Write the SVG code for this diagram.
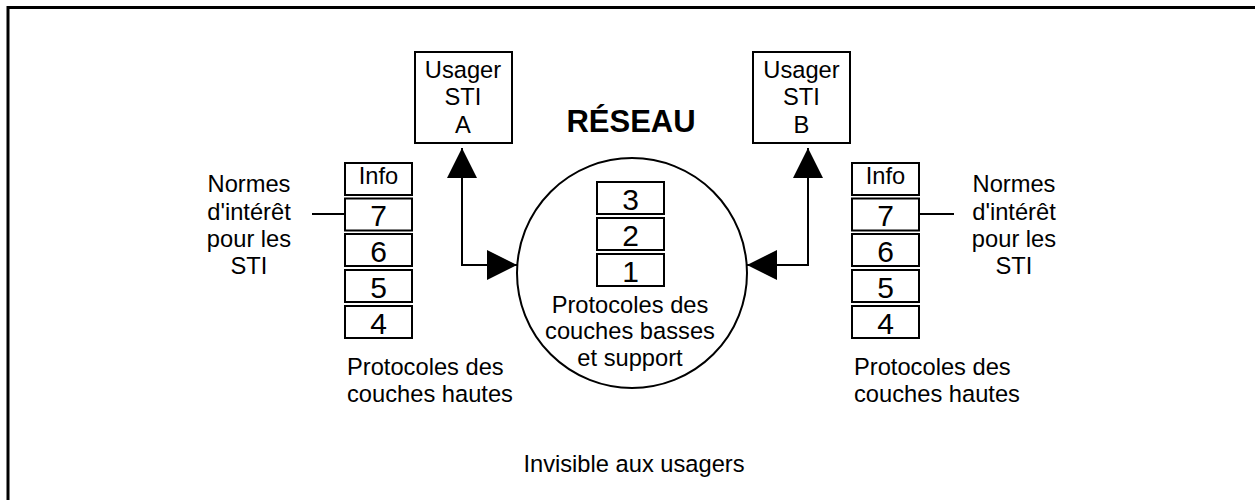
<svg xmlns="http://www.w3.org/2000/svg" width="1255" height="500" viewBox="0 0 1255 500">
  <style>
    text { font-family: "Liberation Sans", Arial, sans-serif; fill: #000; }
    .t { font-size: 23.7px; text-anchor: middle; }
    .l { font-size: 23.7px; text-anchor: start; }
    .d { font-size: 30px; text-anchor: middle; }
    .h { font-size: 31px; font-weight: bold; text-anchor: middle; }
    .box { fill: #fff; stroke: #000; stroke-width: 2; }
    .wire { fill: none; stroke: #000; stroke-width: 2; }
  </style>
  <defs>
    <marker id="tri" viewBox="0 0 30 30" refX="30" refY="15" markerWidth="30" markerHeight="30" markerUnits="userSpaceOnUse" orient="auto-start-reverse">
      <path d="M0,0 L30,15 L0,30 Z" fill="#000"/>
    </marker>
  </defs>
  <rect width="1255" height="500" fill="#fff"/>

  <!-- outer frame (open at right and bottom) -->
  <path d="M8,500 V7.5 H1255" fill="none" stroke="#000" stroke-width="3"/>

  <!-- user A -->
  <g id="usager-a">
    <rect class="box" x="415" y="52" width="97" height="91"/>
    <text class="t" x="463" y="78">Usager</text>
    <text class="t" x="463" y="105">STI</text>
    <text class="t" x="463" y="133">A</text>
  </g>

  <!-- user B -->
  <g id="usager-b">
    <rect class="box" x="753" y="52" width="97" height="91"/>
    <text class="t" x="801.5" y="78">Usager</text>
    <text class="t" x="801.5" y="105">STI</text>
    <text class="t" x="801.5" y="133">B</text>
  </g>

  <!-- network title -->
  <g id="reseau-titre">
    <text class="h" x="631" y="132">RÉSEAU</text>
  </g>

  <!-- network: lower layers -->
  <g id="reseau">
    <circle cx="632" cy="273" r="115" fill="#fff" stroke="#000" stroke-width="2"/>
    <rect class="box" x="597" y="182" width="67" height="32"/>
    <text class="d" x="630.5" y="210">3</text>
    <rect class="box" x="597" y="218" width="67" height="32"/>
    <text class="d" x="630.5" y="246">2</text>
    <rect class="box" x="597" y="254" width="67" height="32"/>
    <text class="d" x="630.5" y="282">1</text>
    <text class="t" x="630" y="312.5">Protocoles des</text>
    <text class="t" x="630" y="339">couches basses</text>
    <text class="t" x="630" y="366">et support</text>
  </g>

  <!-- left upper-layer stack -->
  <g id="pile-a">
    <rect class="box" x="345" y="163" width="67" height="32"/>
    <text class="t" x="378.5" y="183.5">Info</text>
    <rect class="box" x="345" y="198.5" width="67" height="32"/>
    <text class="d" x="378.5" y="226">7</text>
    <rect class="box" x="345" y="234" width="67" height="32"/>
    <text class="d" x="378.5" y="262">6</text>
    <rect class="box" x="345" y="270" width="67" height="32"/>
    <text class="d" x="378.5" y="298">5</text>
    <rect class="box" x="345" y="306" width="67" height="32"/>
    <text class="d" x="378.5" y="334">4</text>
    <text class="l" x="347" y="375">Protocoles des</text>
    <text class="l" x="347" y="402">couches hautes</text>
  </g>

  <!-- right upper-layer stack -->
  <g id="pile-b">
    <rect class="box" x="852" y="163" width="67" height="32"/>
    <text class="t" x="885.5" y="183.5">Info</text>
    <rect class="box" x="852" y="198.5" width="67" height="32"/>
    <text class="d" x="885.5" y="226">7</text>
    <rect class="box" x="852" y="234" width="67" height="32"/>
    <text class="d" x="885.5" y="262">6</text>
    <rect class="box" x="852" y="270" width="67" height="32"/>
    <text class="d" x="885.5" y="298">5</text>
    <rect class="box" x="852" y="306" width="67" height="32"/>
    <text class="d" x="885.5" y="334">4</text>
    <text class="l" x="854" y="375">Protocoles des</text>
    <text class="l" x="854" y="402">couches hautes</text>
  </g>

  <!-- standards notes -->
  <g id="normes-a">
    <text class="t" x="249" y="192">Normes</text>
    <text class="t" x="249" y="219.5">d'intérêt</text>
    <text class="t" x="249" y="247">pour les</text>
    <text class="t" x="249" y="274">STI</text>
  </g>
  <g id="normes-b">
    <text class="t" x="1014" y="192">Normes</text>
    <text class="t" x="1014" y="219.5">d'intérêt</text>
    <text class="t" x="1014" y="247">pour les</text>
    <text class="t" x="1014" y="274">STI</text>
  </g>

  <g id="note-bas">
    <text class="t" x="634" y="472">Invisible aux usagers</text>
  </g>

  <!-- connectors -->
  <g id="connecteurs">
    <path class="wire" d="M462,148 V265 H517" marker-start="url(#tri)" marker-end="url(#tri)"/>
    <path class="wire" d="M808,148 V265 H747" marker-start="url(#tri)" marker-end="url(#tri)"/>
    <line class="wire" x1="312" y1="214" x2="345" y2="214"/>
    <line class="wire" x1="919" y1="214" x2="954" y2="214"/>
  </g>
</svg>
